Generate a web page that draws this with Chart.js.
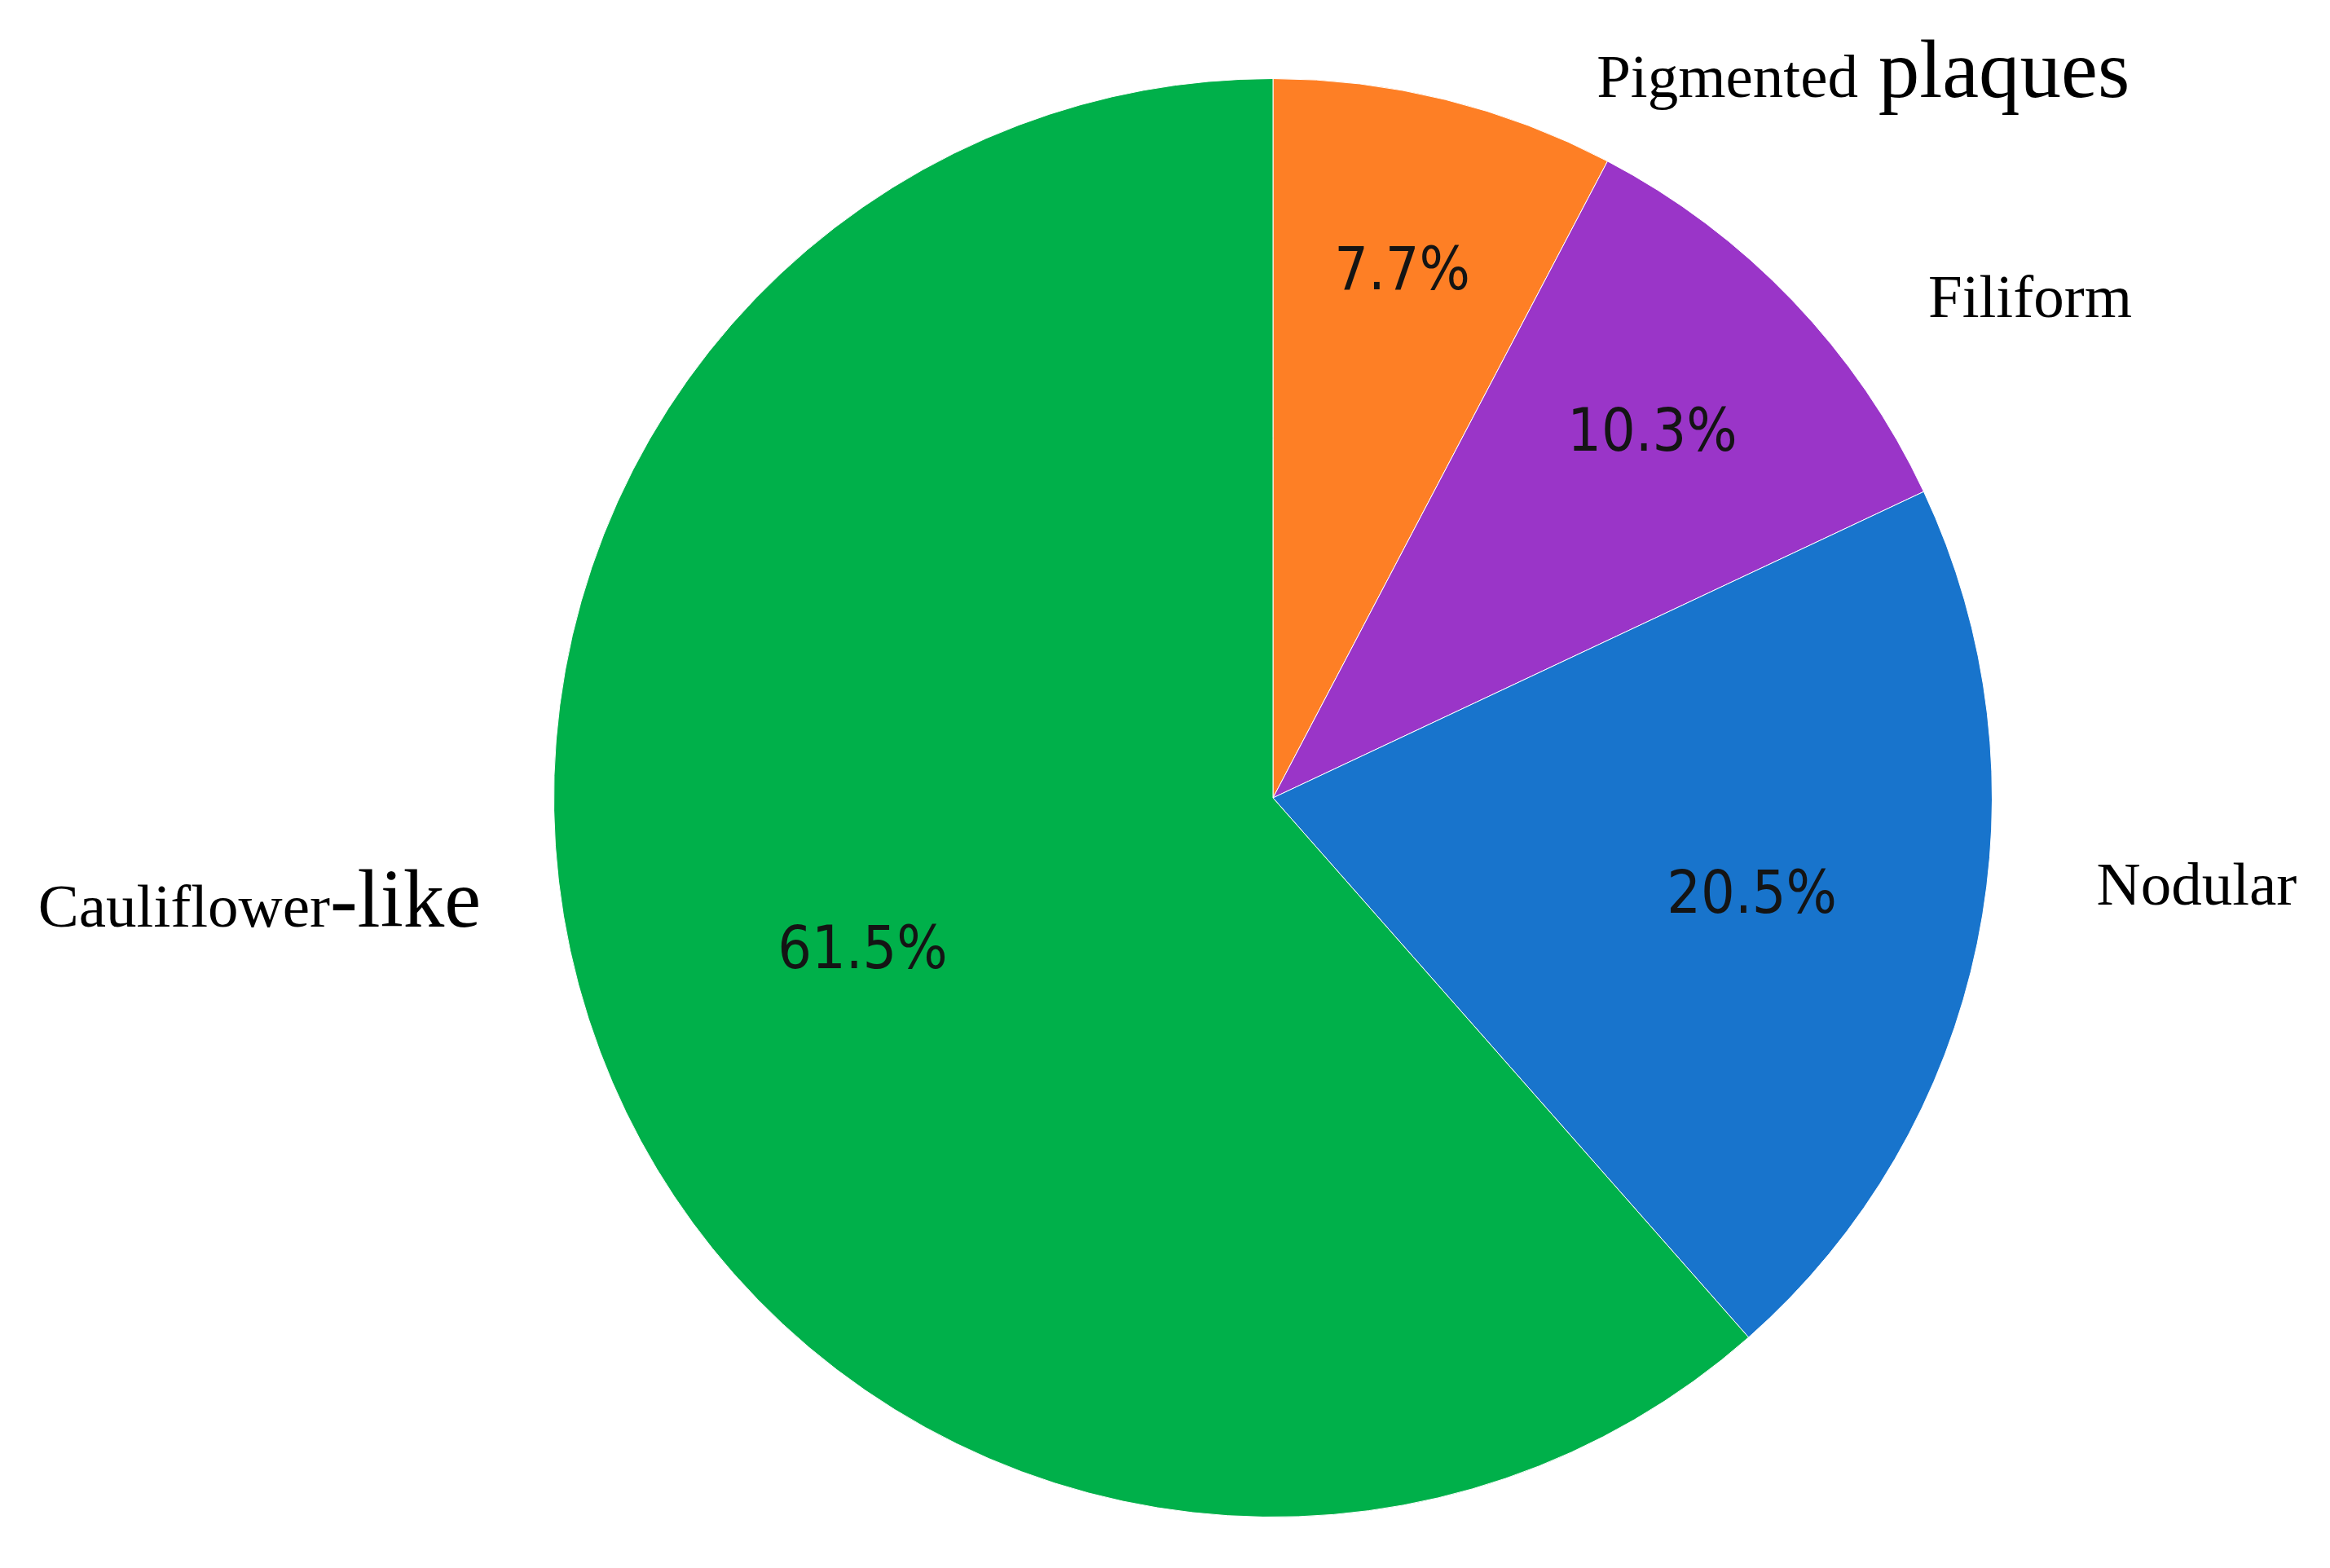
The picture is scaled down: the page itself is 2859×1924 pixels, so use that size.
<!DOCTYPE html>
<html>
<head>
<meta charset="utf-8">
<script src="https://cdn.jsdelivr.net/npm/chart.js@4"></script>
<style>
  html, body { margin: 0; padding: 0; background: #ffffff; }
  #wrap { width: 2859px; height: 1924px; position: relative; }
</style>
</head>
<body>
<div id="wrap"><canvas id="wartChart"></canvas></div>
<script>
// Chart data
const categories = ['Pigmented plaques', 'Filiform', 'Nodular', 'Cauliflower-like'];
const percentages = [7.7, 10.3, 20.5, 61.5];
const sliceColors = ['#FE7F25', '#9A35C8', '#1874CC', '#00B04A'];

// part of each label that is written in the larger type
const bigParts = ['plaques', null, null, '-like'];

// label placement relative to pie centre, in units of the radius
const labelPlacement = {
    inside: [0.75, 0.73, 0.68, 0.61],
    outside: [
        { dx: 0.450, dy: -0.975 },
        { dx: 0.911, dy: -0.668 },
        { dx: 1.145, dy: 0.148 },
        { dx: -1.717, dy: 0.179 }
    ]
};

const pieLabels = {
    id: 'pieLabels',
    afterDatasetsDraw(chart) {
        const ctx = chart.ctx;
        const arcs = chart.getDatasetMeta(0).data;
        const total = percentages.reduce((a, b) => a + b, 0);
        ctx.save();
        arcs.forEach((arc, i) => {
            const p = arc.getProps(['x', 'y', 'startAngle', 'endAngle', 'outerRadius'], true);
            const mid = (p.startAngle + p.endAngle) / 2;
            const r = p.outerRadius;

            // percentage inside the slice
            const f = labelPlacement.inside[i];
            ctx.fillStyle = '#141414';
            ctx.font = '73px "DejaVu Sans Condensed", "DejaVu Sans", sans-serif';
            ctx.textAlign = 'center';
            ctx.textBaseline = 'middle';
            const pct = (percentages[i] / total * 100).toFixed(1) + '%';
            ctx.fillText(pct, p.x + Math.cos(mid) * r * f, p.y + Math.sin(mid) * r * f);

            // category name outside
            const o = labelPlacement.outside[i];
            let x = p.x + o.dx * r;
            const y = p.y + o.dy * r;
            const name = categories[i];
            const big = bigParts[i];
            let small = name, large = '';
            if (big) {
                small = name.slice(0, name.lastIndexOf(big));
                large = big;
            }
            ctx.fillStyle = '#000000';
            ctx.textAlign = 'left';
            ctx.textBaseline = 'alphabetic';
            ctx.font = '75px "Liberation Serif", "Times New Roman", serif';
            ctx.fillText(small, x, y);
            x += ctx.measureText(small).width;
            if (large) {
                if (small.endsWith(' ')) x += 6;
                ctx.font = '101px "Liberation Serif", "Times New Roman", serif';
                ctx.fillText(large, x, y);
            }
        });
        ctx.restore();
    }
};

const ctx = document.getElementById('wartChart').getContext('2d');
new Chart(ctx, {
    type: 'pie',
    data: {
        labels: categories,
        datasets: [{
            data: percentages,
            backgroundColor: sliceColors,
            borderColor: '#ffffff',
            borderWidth: 1
        }]
    },
    options: {
        responsive: true,
        maintainAspectRatio: false,
        animation: false,
        layout: {
            padding: { left: 679, right: 414, top: 96, bottom: 62 }
        },
        plugins: {
            legend: { display: false },
            tooltip: { enabled: false }
        }
    },
    plugins: [pieLabels]
});
</script>
</body>
</html>
